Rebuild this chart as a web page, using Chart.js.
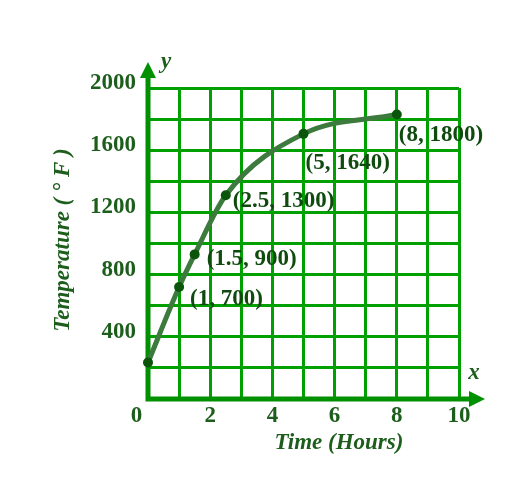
<!DOCTYPE html>
<html>
<head>
<meta charset="utf-8">
<script src="https://cdn.jsdelivr.net/npm/chart.js@4.4.1/dist/chart.umd.min.js"></script>
<style>
  html, body { margin: 0; padding: 0; background: #fff; }
  canvas { display: block; }
</style>
</head>
<body>
<canvas id="tempChart" width="516" height="487"></canvas>
<script>
// values
const hours = [0, 1, 1.5, 2.5, 5, 8];
const temps = [235, 720, 930, 1310, 1705, 1830];
const pointLabels = ["", "(1, 700)", "(1.5, 900)", "(2.5, 1300)", "(5, 1640)", "(8, 1800)"];
const xTitle = "Time (Hours)";
const yTitle = "Temperature ( \u00b0 F )";

const tickFont = { family: "'Liberation Serif', 'DejaVu Serif', serif", size: 23, weight: "bold" };
const textColor = "#1d5e1d";
const axisColor = "#009000";

// label offsets from each dot (px)
const labelOffsets = [[0, 0], [11, 12], [12, 5], [7, 6], [2, 29], [2, 21]];

// axes with arrow heads + free text
const decorPlugin = {
    id: "decor",
    beforeDatasetsDraw(chart) {
        const ctx = chart.ctx;
        const xs = chart.scales.x, ys = chart.scales.y;
        const x0 = xs.getPixelForValue(0);
        const y0 = ys.getPixelForValue(0);
        ctx.save();
        ctx.strokeStyle = axisColor;
        ctx.fillStyle = axisColor;
        ctx.lineWidth = 5;
        ctx.beginPath();
        ctx.moveTo(x0, y0 + 2.5);
        ctx.lineTo(x0, 75);
        ctx.moveTo(x0 - 2.5, y0);
        ctx.lineTo(472, y0);
        ctx.stroke();
        // y arrow
        ctx.beginPath();
        ctx.moveTo(x0, 62);
        ctx.lineTo(x0 - 8, 78);
        ctx.lineTo(x0 + 8, 78);
        ctx.closePath();
        ctx.fill();
        // x arrow
        ctx.beginPath();
        ctx.moveTo(485, y0);
        ctx.lineTo(469, y0 - 8);
        ctx.lineTo(469, y0 + 8);
        ctx.closePath();
        ctx.fill();
        ctx.restore();
    },
    afterDatasetsDraw(chart) {
        const ctx = chart.ctx;
        const meta = chart.getDatasetMeta(0);
        ctx.save();
        ctx.fillStyle = "#0f4a0f";
        ctx.font = "bold 23px 'Liberation Serif', serif";
        ctx.textAlign = "left";
        ctx.textBaseline = "middle";
        meta.data.forEach((pt, i) => {
            if (!pointLabels[i]) return;
            ctx.fillText(pointLabels[i], pt.x + labelOffsets[i][0], pt.y + labelOffsets[i][1]);
        });

        ctx.fillStyle = textColor;
        ctx.font = "italic bold 23px 'Liberation Serif', serif";
        ctx.textAlign = "center";
        ctx.fillText(xTitle, 339, 443);
        ctx.fillText("x", 474, 373);
        ctx.fillText("y", 166, 62);

        ctx.translate(63, 240);
        ctx.rotate(-Math.PI / 2);
        ctx.fillText(yTitle, 0, 0);
        ctx.restore();
    }
};

new Chart(document.getElementById("tempChart"), {
    type: "line",
    data: {
        datasets: [{
            data: hours.map((h, i) => ({ x: h, y: temps[i] })),
            borderColor: "#3d7a3d",
            borderWidth: 5,
            backgroundColor: "#0a550a",
            pointBackgroundColor: "#0a550a",
            pointBorderWidth: 0,
            pointRadius: 5,
            cubicInterpolationMode: "monotone",
            fill: false,
            clip: false,
        }],
    },
    options: {
        responsive: false,
        animation: false,
        layout: { padding: { top: 88, right: 57, left: 0, bottom: 0 } },
        plugins: {
            legend: { display: false },
            tooltip: { enabled: false },
        },
        scales: {
            x: {
                type: "linear",
                min: 0,
                max: 10,
                afterFit(scale) { scale.height = 88; },
                grid: { color: "#00a000", lineWidth: 3, drawTicks: false },
                border: { display: false },
                ticks: {
                    stepSize: 1,
                    padding: 3,
                    color: textColor,
                    font: tickFont,
                    maxRotation: 0,
                    autoSkip: false,
                    callback: (v) => v === 0 ? "0    " : (v % 2 === 0 ? String(v) : ""),
                },
            },
            y: {
                min: 0,
                max: 2000,
                afterFit(scale) { scale.width = 148; },
                grid: { color: "#00a000", lineWidth: 3, drawTicks: false },
                border: { display: false },
                ticks: {
                    stepSize: 200,
                    padding: 12,
                    labelOffset: -5,
                    color: textColor,
                    font: tickFont,
                    autoSkip: false,
                    callback: (v) => (v > 0 && v % 400 === 0) ? String(v) : "",
                },
            },
        },
    },
    plugins: [decorPlugin],
});
</script>
</body>
</html>
